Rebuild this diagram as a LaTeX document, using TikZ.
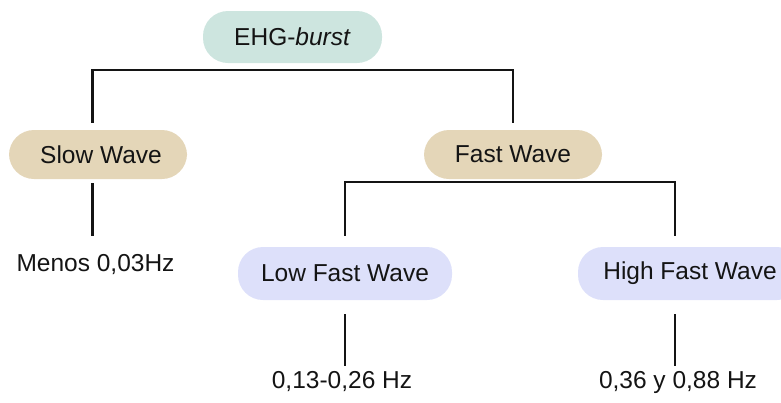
\documentclass[tikz,border=0pt]{standalone}
\usepackage{fontspec}
\setmainfont{Liberation Sans}
\definecolor{burstgreen}{HTML}{CDE5DF}
\definecolor{wavesand}{HTML}{E4D6B8}
\definecolor{fastlilac}{HTML}{DDE0FA}
\definecolor{inkblack}{HTML}{141414}
\begin{document}
\begin{tikzpicture}[x=1pt,y=-1pt,
  pill/.style={rounded corners=25pt, inner sep=0pt, text=inkblack,
    font=\fontsize{24.5}{28}\selectfont},
  hzlabel/.style={anchor=base, inner sep=0pt, text height=17pt, text depth=5pt,
    text=inkblack, font=\fontsize{24.5}{28}\selectfont},
  link/.style={line width=2.2pt, inkblack}]
\useasboundingbox (0,0) rectangle (781,402);
\node[pill, fill=burstgreen, minimum width=179pt, minimum height=52pt] (ehg) at (292.5,37) {EHG-\textit{burst}};
\node[pill, fill=wavesand, minimum width=178pt, minimum height=49pt] (slow) at (98,154.5) {\hspace{6pt}Slow Wave};
\node[pill, fill=wavesand, minimum width=178pt, minimum height=49pt] (fast) at (513,154.5) {Fast Wave};
\node[pill, fill=fastlilac, minimum width=214pt, minimum height=53pt] (low) at (345,273.5) {Low Fast Wave};
\node[pill, fill=fastlilac, minimum width=224pt, minimum height=53pt] (high) at (690,273.5) {High Fast Wave};
\node[hzlabel] (menos) at (95.5,271) {Menos 0,03Hz};
\node[hzlabel] (lowhz) at (342,388) {0,13-0,26 Hz};
\node[hzlabel] (highhz) at (678,388) {0,36 y 0,88 Hz};
\draw[link] ([xshift=-5.5pt,yshift=7pt]slow.north) |- ([yshift=-7pt]ehg.south) -| ([yshift=7pt]fast.north);
\draw[link] ([xshift=-5.5pt,yshift=-4pt]slow.south) -- ([xshift=-3pt,yshift=18pt]menos.north);
\draw[link] ([yshift=11pt]low.north) |- ([yshift=-3pt]fast.south) -| ([xshift=-15pt,yshift=11pt]high.north);
\draw[link] ([yshift=-14pt]low.south) -- ([xshift=3pt,yshift=5pt]lowhz.north);
\draw[link] ([xshift=-15pt,yshift=-14pt]high.south) -- ([xshift=-3pt,yshift=5pt]highhz.north);
\end{tikzpicture}
\end{document}
